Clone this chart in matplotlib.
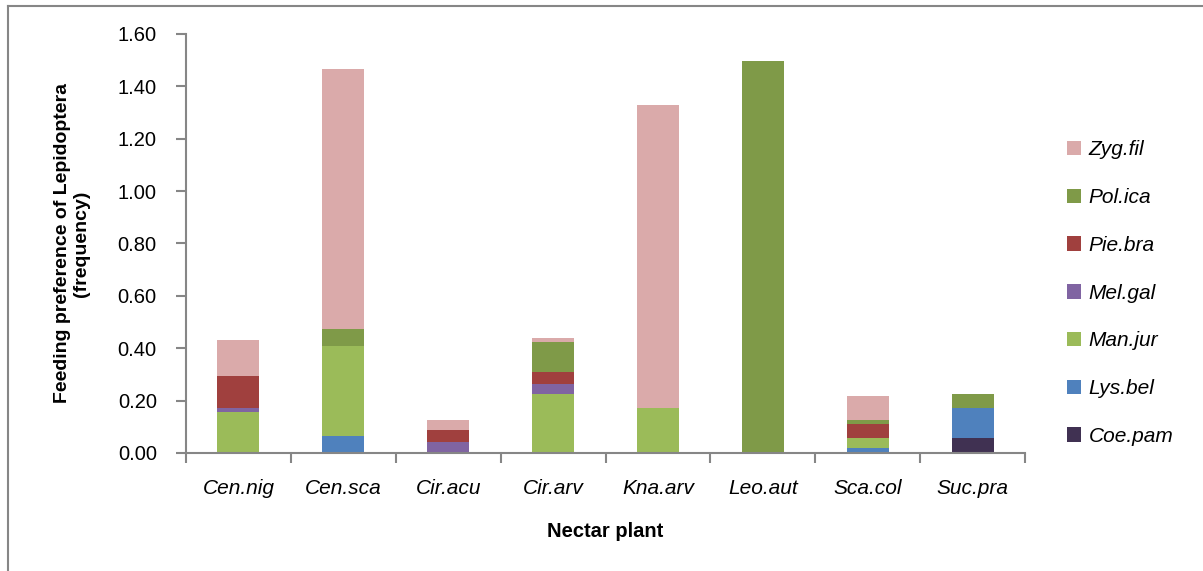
import matplotlib
matplotlib.use("Agg")
import matplotlib.pyplot as plt
from matplotlib.lines import Line2D
from matplotlib.patches import Patch
import numpy as np

plants = ["Cen.nig", "Cen.sca", "Cir.acu", "Cir.arv", "Kna.arv", "Leo.aut", "Sca.col", "Suc.pra"]

# stacked from bottom to top
coe_pam = [0.0, 0.0, 0.0, 0.0, 0.0, 0.0, 0.0, 0.057]
lys_bel = [0.0, 0.065, 0.0, 0.0, 0.0, 0.0, 0.019, 0.115]
man_jur = [0.157, 0.344, 0.0, 0.226, 0.172, 0.0, 0.038, 0.0]
mel_gal = [0.015, 0.0, 0.042, 0.038, 0.0, 0.0, 0.0, 0.0]
pie_bra = [0.122, 0.0, 0.046, 0.046, 0.0, 0.0, 0.054, 0.0]
pol_ica = [0.0, 0.065, 0.0, 0.114, 0.0, 1.495, 0.015, 0.054]
zyg_fil = [0.138, 0.991, 0.038, 0.016, 1.155, 0.0, 0.092, 0.0]

series = [
    ("Coe.pam", coe_pam, "#403152"),
    ("Lys.bel", lys_bel, "#4F81BD"),
    ("Man.jur", man_jur, "#9BBB59"),
    ("Mel.gal", mel_gal, "#8064A2"),
    ("Pie.bra", pie_bra, "#A0403E"),
    ("Pol.ica", pol_ica, "#7F9A48"),
    ("Zyg.fil", zyg_fil, "#DAAAAA"),
]

plt.rcParams["font.family"] = ["Liberation Sans", "DejaVu Sans"]
axis_grey = "#868686"

fig = plt.figure(figsize=(12.03, 5.71), dpi=100)
ax = fig.add_axes([0.1546, 0.2067, 0.6975, 0.7338])

x = np.arange(len(plants))
bottom = np.zeros(len(plants))
for name, vals, color in series:
    ax.bar(x, vals, width=0.4, bottom=bottom, color=color, label=name)
    bottom += np.array(vals)

ax.set_xlim(-0.5, len(plants) - 0.5)
ax.set_ylim(0, 1.6)
ticks = np.arange(0, 1.61, 0.2)
ax.set_yticks(ticks)
ax.set_yticklabels([f"{v:.2f}" for v in ticks], fontsize=14.5)
ax.set_xticks(x)
ax.set_xticklabels(plants, fontsize=15, fontstyle="italic")
ax.set_xticks(np.arange(-0.5, len(plants)), minor=True)
ax.tick_params(axis="x", which="major", length=0, pad=19)
ax.tick_params(axis="x", which="minor", length=7, width=1.5, color=axis_grey, direction="out")
ax.tick_params(axis="y", length=7, width=1.5, color=axis_grey, direction="out", pad=14)

for s in ["top", "right"]:
    ax.spines[s].set_visible(False)
for s in ["left", "bottom"]:
    ax.spines[s].set_color(axis_grey)
    ax.spines[s].set_linewidth(1.5)

ax.set_xlabel("Nectar plant", fontsize=14.5, fontweight="bold", labelpad=17)
ax.set_ylabel("Feeding preference of Lepidoptera\n(frequency)", fontsize=14,
              fontweight="bold", labelpad=20, linespacing=1.15)

handles = [Patch(facecolor=c, label=n) for n, _, c in reversed(series)]
leg = fig.legend(handles=handles, loc="upper left", bbox_to_anchor=(0.871, 0.787),
                 frameon=False, prop={"size": 15, "style": "italic"},
                 handlelength=0.7, handleheight=0.7, handletextpad=0.35,
                 labelspacing=1.38)

# outer chart border (only top and left visible)
fig.add_artist(Line2D([8 / 1203, 1.0], [1 - 6 / 571, 1 - 6 / 571], color=axis_grey, lw=1.5))
fig.add_artist(Line2D([8 / 1203, 8 / 1203], [0.0, 1 - 6 / 571], color=axis_grey, lw=1.5))

fig.savefig("out.png", dpi=100)
